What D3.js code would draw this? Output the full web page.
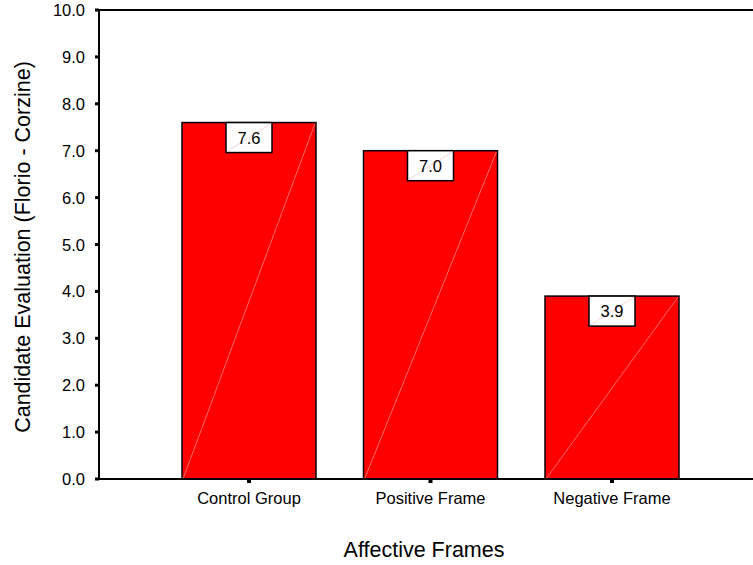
<!DOCTYPE html>
<html>
<head>
<meta charset="utf-8">
<script src="https://cdn.jsdelivr.net/npm/d3@7"></script>
<style>
  html, body { margin: 0; padding: 0; background: #fff; }
  svg { display: block; font-family: "Liberation Sans", Arial, sans-serif; }
</style>
</head>
<body>
<svg id="chart" width="753" height="565"></svg>
<script>
// Mean candidate evaluation by affective frame
const categories = ["Control Group", "Positive Frame", "Negative Frame"];
const means = [7.6, 7.0, 3.9];
const yTicks = [0, 1, 2, 3, 4, 5, 6, 7, 8, 9, 10];

const svg = d3.select("#chart");
const plotLeft = 99, plotTop = 10, plotBottom = 479, plotRight = 760;
const barWidth = 134;

const y = d3.scaleLinear().domain([0, 10]).range([plotBottom, plotTop]);
const x = d3.scalePoint().domain(categories).range([249, 612]);

// bars with the faint diagonal rule
const bars = svg.append("g");
categories.forEach((c, i) => {
  const x0 = x(c) - barWidth / 2;
  const yTop = y(means[i]);
  bars.append("rect")
    .attr("x", x0).attr("y", yTop)
    .attr("width", barWidth).attr("height", plotBottom - yTop)
    .attr("fill", "#ff0000").attr("stroke", "#000").attr("stroke-width", 1.5);
  bars.append("line")
    .attr("x1", x0 + 1).attr("y1", plotBottom)
    .attr("x2", x0 + barWidth - 1).attr("y2", yTop + 1)
    .attr("stroke", "#ff9a9a").attr("stroke-width", 0.7);

  // value label box
  const bw = 46, bh = 30;
  const bx = x(c) - bw / 2;
  bars.append("rect")
    .attr("x", bx).attr("y", yTop)
    .attr("width", bw).attr("height", bh)
    .attr("fill", "#fff").attr("stroke", "#000").attr("stroke-width", 1.5);
  bars.append("line")
    .attr("x1", bx + 1).attr("y1", yTop + bh - 1)
    .attr("x2", bx + bw - 1).attr("y2", yTop + 1)
    .attr("stroke", "#ffb0b0").attr("stroke-width", 0.6);
  bars.append("text")
    .attr("x", x(c)).attr("y", yTop + 21)
    .attr("text-anchor", "middle")
    .attr("font-size", 16.5).attr("fill", "#000")
    .text(d3.format(".1f")(means[i]));
});

// y axis
const yAxis = svg.append("g");
yAxis.append("line")
  .attr("x1", plotLeft).attr("x2", plotLeft).attr("y1", plotTop - 1).attr("y2", plotBottom + 1)
  .attr("stroke", "#000").attr("stroke-width", 2);
yTicks.forEach(t => {
  yAxis.append("rect")
    .attr("x", plotLeft - 4).attr("y", y(t) - 1.5)
    .attr("width", 4).attr("height", 3).attr("fill", "#000");
  yAxis.append("text")
    .attr("x", plotLeft - 14).attr("y", y(t) + 6)
    .attr("text-anchor", "end").attr("font-size", 16.5).attr("fill", "#000")
    .text(d3.format(".1f")(t));
});

// top frame line
svg.append("line")
  .attr("x1", plotLeft - 1).attr("x2", plotRight).attr("y1", plotTop).attr("y2", plotTop)
  .attr("stroke", "#000").attr("stroke-width", 2);

// x axis
const xAxis = svg.append("g");
xAxis.append("line")
  .attr("x1", plotLeft - 1).attr("x2", plotRight).attr("y1", plotBottom).attr("y2", plotBottom)
  .attr("stroke", "#000").attr("stroke-width", 2);
categories.forEach(c => {
  xAxis.append("rect")
    .attr("x", x(c) - 2).attr("y", plotBottom)
    .attr("width", 4).attr("height", 4).attr("fill", "#000");
  xAxis.append("text")
    .attr("x", x(c)).attr("y", plotBottom + 25)
    .attr("text-anchor", "middle").attr("font-size", 16.5).attr("fill", "#000")
    .text(c);
});

// axis titles
svg.append("text")
  .attr("x", 424).attr("y", 557)
  .attr("text-anchor", "middle").attr("font-size", 21.5).attr("fill", "#000")
  .text("Affective Frames");
svg.append("text")
  .attr("transform", "translate(30,247) rotate(-90)")
  .attr("text-anchor", "middle").attr("font-size", 21.5).attr("fill", "#000")
  .text("Candidate Evaluation (Florio - Corzine)");
</script>
</body>
</html>
